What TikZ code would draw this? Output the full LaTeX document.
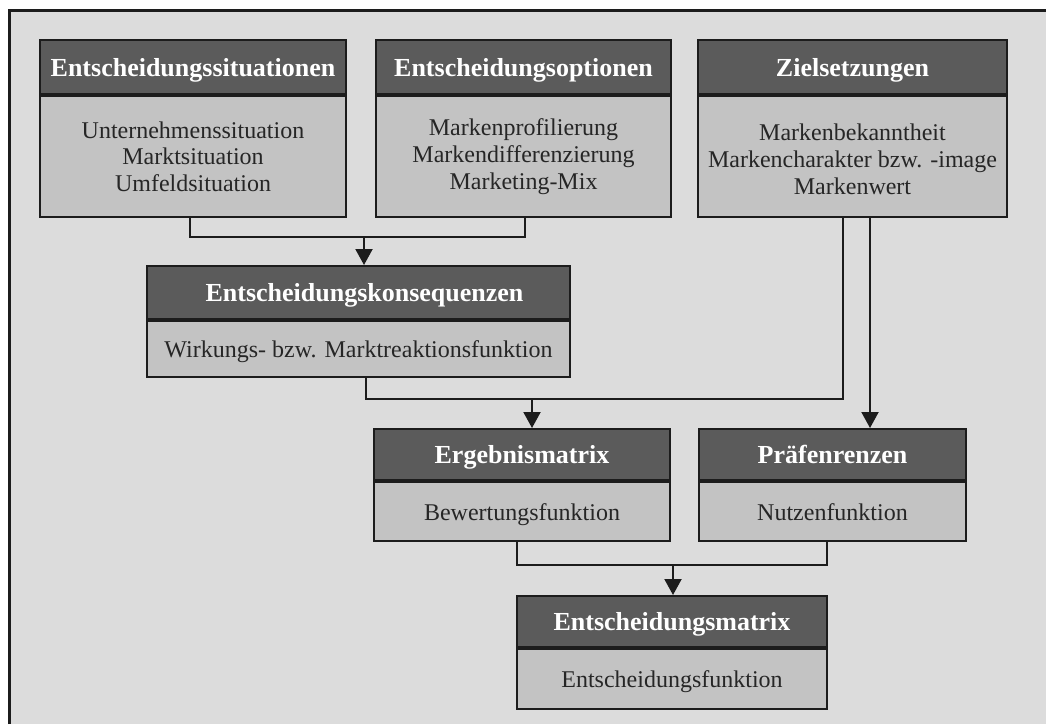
\documentclass[tikz,border=0pt]{standalone}
\usepackage{fontspec}
\setmainfont{Liberation Serif}
\usetikzlibrary{arrows.meta}

\definecolor{bgcol}{HTML}{DCDCDC}
\definecolor{headcol}{HTML}{5B5B5B}
\definecolor{bodycol}{HTML}{C3C3C3}
\definecolor{linecol}{HTML}{1C1C1C}
\definecolor{txtcol}{HTML}{262626}

\tikzset{
  headbox/.style={draw=linecol, line width=2pt, fill=headcol, inner sep=0pt,
    anchor=north west, text=white, align=center,
    text height=18pt, text depth=0pt,
    font=\fontsize{26}{30}\selectfont\bfseries},
  listbox/.style={draw=linecol, line width=2pt, fill=bodycol, inner sep=0pt,
    anchor=north, text=txtcol, align=center,
    font=\fontsize{24}{26.7}\selectfont},
  bodybox/.style={listbox, text height=17pt, text depth=0pt},
  conn/.style={draw=linecol, line width=2pt},
  arr/.style={conn, -{Triangle[width=17pt,length=16pt]}},
}

\begin{document}
\begin{tikzpicture}[x=1pt, y=-1pt]
\useasboundingbox (0,0) rectangle (1046,724);

% frame and background
\fill[bgcol] (9.5,10.5) rectangle (1046,724);
\draw[linecol, line width=3pt] (9.5,724) -- (9.5,10.5) -- (1046,10.5);

% top row
\node[headbox, minimum width=306pt, minimum height=54pt] (h1) at (39,39) {Entscheidungssituationen};
\node[listbox, minimum width=306pt, minimum height=121pt] (b1) at (h1.south)
  {Unternehmenssituation\\Marktsituation\\Umfeldsituation};

\node[headbox, minimum width=295pt, minimum height=54pt] (h2) at (375,39) {Entscheidungsoptionen};
\node[listbox, minimum width=295pt, minimum height=121pt] (b2) at (h2.south)
  {Markenprofilierung\\Markendifferenzierung\\Marketing-Mix};

\node[headbox, minimum width=309pt, minimum height=54pt] (h3) at (697,39) {Zielsetzungen};
\node[listbox, minimum width=309pt, minimum height=121pt] (b3) at (h3.south)
  {\rule{0pt}{22.5pt}Markenbekanntheit\\Markencharakter bzw. -image\\Markenwert};

% second row
\node[headbox, minimum width=423pt, minimum height=53pt] (h4) at (146,265) {\hspace*{12pt}Entscheidungskonsequenzen};
\node[bodybox, minimum width=423pt, minimum height=56pt] (b4) at (h4.south)
  {Wirkungs- bzw. Marktreaktionsfunktion};

% third row
\node[headbox, minimum width=296pt, minimum height=51pt] (h5) at (373,428) {Ergebnismatrix};
\node[bodybox, minimum width=296pt, minimum height=59pt] (b5) at (h5.south)
  {Bewertungsfunktion};

\node[headbox, minimum width=267pt, minimum height=51pt] (h6) at (698,428) {Präfenrenzen};
\node[bodybox, minimum width=267pt, minimum height=59pt] (b6) at (h6.south)
  {Nutzenfunktion};

% bottom
\node[headbox, minimum width=310pt, minimum height=51pt] (h7) at (516,595) {Entscheidungsmatrix};
\node[bodybox, minimum width=310pt, minimum height=60pt] (b7) at (h7.south)
  {Entscheidungsfunktion};

% junction points
\coordinate (j1) at (364,237);
\coordinate (j2) at (532,399);
\coordinate (j3) at (673,565);

% situations + options -> consequences
\draw[conn] ([xshift=-3pt]b1.south) |- (j1) -| ([xshift=1.5pt]b2.south);
\draw[arr] (j1) -- (j1 |- h4.north);

% consequences + objectives -> result matrix
\draw[conn] ([xshift=7.5pt]b4.south) |- (j2) -| ([xshift=-9.5pt]b3.south);
\draw[arr] (j2) -- (j2 |- h5.north);

% objectives -> preferences
\draw[arr] ([xshift=17.5pt]b3.south) -- ([xshift=17.5pt]b3.south |- h6.north);

% result matrix + preferences -> decision matrix
\draw[conn] ([xshift=-5pt]b5.south) |- (j3) -| ([xshift=-5.5pt]b6.south);
\draw[arr] (j3) -- (j3 |- h7.north);
\end{tikzpicture}
\end{document}
